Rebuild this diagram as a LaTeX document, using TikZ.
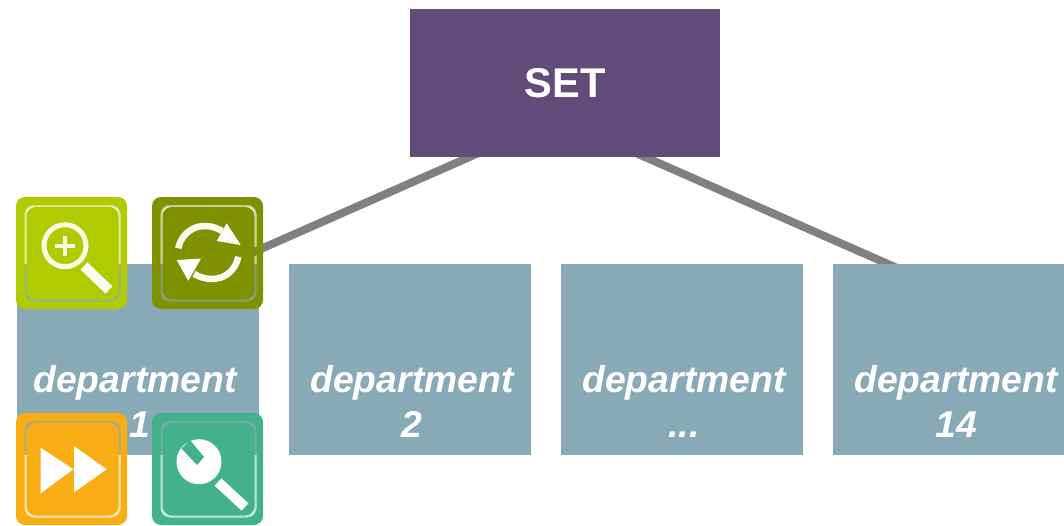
\documentclass[tikz,border=0pt]{standalone}
\usepackage{fontspec}
\setmainfont{Liberation Sans}
\definecolor{deptblue}{HTML}{88A9B6}
\definecolor{setpurple}{HTML}{624A7A}
\definecolor{linkgray}{HTML}{808080}
\definecolor{lime}{HTML}{B0CB00}
\definecolor{olive}{HTML}{7F9100}
\definecolor{amber}{HTML}{F9AD14}
\definecolor{jade}{HTML}{43B18C}
\newcommand{\iconbase}[1]{%
  \fill[#1,even odd rule,rounded corners=9pt] (0,0) rectangle (111,112) (8.5,8) rectangle (104.5,104.5) (10.5,10) rectangle (102.5,102.5);
  \draw[#1,opacity=.4,line width=2pt,rounded corners=7pt] (9.5,9) rectangle (103.5,103.5);
}
\tikzset{
  x=1pt,y=-1pt,
  deptbox/.style={fill=deptblue,minimum width=242pt,minimum height=191pt,inner sep=0pt},
  depttext/.style={text=white,align=center,inner sep=0pt,font=\fontsize{37.3pt}{45pt}\selectfont\bfseries\itshape},
  settext/.style={fill=setpurple,minimum width=310pt,minimum height=148pt,inner sep=0pt,text=white,font=\fontsize{41.6pt}{48pt}\selectfont\bfseries},
  link/.style={draw=linkgray,line width=8pt}
}
\begin{document}
\begin{tikzpicture}
\useasboundingbox (0,0) rectangle (1064,525);
\clip (0,0) rectangle (1064,525);
\coordinate (setl) at (478.6,153);
\coordinate (setr) at (635.9,153);
\coordinate (dtopl) at (217.6,268);
\coordinate (dtopr) at (897,268);
\draw[link] (setl) -- (dtopl);
\draw[link] (setr) -- (dtopr);
\node[settext] (set) at (565,83) {SET};
\node[deptbox] (d1) at (138,359.5) {};
\node[deptbox] (d2) at (410,359.5) {};
\node[deptbox] (d3) at (682,359.5) {};
\node[deptbox] (d4) at (954,359.5) {};
\node[depttext] (t1) at (135,401.5) {department\\\hspace*{9pt}1};
\node[depttext] (t2) at (412,401.5) {department\\2};
\node[depttext] (t3) at (684,401.5) {department\\...};
\node[depttext] (t4) at (956,401.5) {department\\14};
% magnifier
\begin{scope}[shift={(16,197)}]
  \iconbase{lime}
  \draw[white!90!lime,line width=5pt] (49,48.7) circle (21);
  \draw[white!90!lime,line width=4pt] (39,48.7) -- (59,48.7) (49,38.7) -- (49,58.7);
  \draw[white!95!lime,line width=10pt] (68,69) -- (93,93);
\end{scope}
% cycle arrows
\begin{scope}[shift={(152,197)}]
  \iconbase{olive}
  \draw[white!95!olive,line width=6.5pt] (26.3,51.3) .. controls (30,33) and (50,22) .. (70,34);
  \draw[white!95!olive,line width=6.5pt] (86.3,59.7) .. controls (82,80) and (62,88) .. (42,77);
  \fill[white] (74.7,26.3) -- (88.7,48) -- (64.7,44) -- cycle;
  \fill[white] (24.7,63) -- (49,61.5) -- (36.3,83.7) -- cycle;
\end{scope}
% fast forward
\begin{scope}[shift={(16,413)}]
  \iconbase{amber}
  \fill[white] (24.7,34.7) -- (24.7,80.3) -- (57.3,56.3) -- cycle;
  \fill[white] (58,33) -- (58,79.3) -- (90.7,56.3) -- cycle;
\end{scope}
% wrench
\begin{scope}[shift={(152,413)}]
  \iconbase{jade}
  \fill[white] (47,48.7) circle (22.5);
  \fill[jade] (29.5,35.5) -- (45,52) -- (52,44) -- (38,27) -- cycle;
  \draw[white,line width=10pt] (66,69) -- (93,94);
\end{scope}
\end{tikzpicture}
\end{document}
